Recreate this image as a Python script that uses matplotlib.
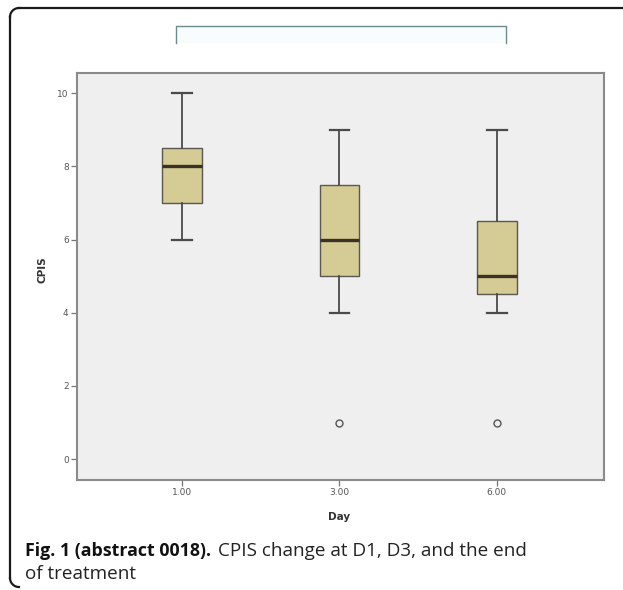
import matplotlib
matplotlib.use("Agg")
import matplotlib.pyplot as plt
from matplotlib.lines import Line2D
from matplotlib import font_manager
import numpy as np

# CPIS summary by day of treatment
days = ["1.00", "3.00", "6.00"]
whisker_low = [6.0, 4.0, 4.0]
q1 = [7.0, 5.0, 4.5]
median = [8.0, 6.0, 5.0]
q3 = [8.5, 7.5, 6.5]
whisker_high = [10.0, 9.0, 9.0]
outliers = [[], [1.0], [1.0]]
y_ticks = [0, 2, 4, 6, 8, 10]


def caption_font(bold, size):
    """Pick a regular-width Open Sans face, bold or regular."""
    wanted = 700 if bold else 400
    best = None
    for f in font_manager.fontManager.ttflist:
        if f.name != "Open Sans":
            continue
        if "ondensed" in f.fname or f.stretch not in ("normal", 500):
            continue
        if "talic" in f.fname or f.style != "normal":
            continue
        w = f.weight if isinstance(f.weight, int) else 400
        score = abs(w - wanted)
        if best is None or score < best[0]:
            best = (score, f.fname)
    if best is None:
        return font_manager.FontProperties(family="DejaVu Sans",
                                           weight="bold" if bold else "normal", size=size)
    return font_manager.FontProperties(fname=best[1], size=size)


W, H = 623, 590
fig = plt.figure(figsize=(W / 100, H / 100), dpi=100)
fig.patch.set_facecolor("white")

def fx(px):
    return px / W

def fy(py):
    return 1 - py / H

# Outer frame: left and top border with rounded corners
r = 9
fig.add_artist(Line2D([fx(10 + r), fx(W + 5)], [fy(8), fy(8)], color="#1a1a1a", lw=1.6))
fig.add_artist(Line2D([fx(10), fx(10)], [fy(8 + r), fy(H - 3 - r)], color="#1a1a1a", lw=1.6))
t = np.linspace(np.pi / 2, np.pi, 20)
fig.add_artist(Line2D(fx(10 + r + r * np.cos(t)), fy(8 + r - r * np.sin(t)), color="#1a1a1a", lw=1.6))
t2 = np.linspace(np.pi, 1.5 * np.pi, 20)
fig.add_artist(Line2D(fx(10 + r + r * np.cos(t2)), fy(H - 3 - r - r * np.sin(t2)), color="#1a1a1a", lw=1.6))

# Bracket above the plot
bx0, bx1, by0, by1 = 176, 506, 26, 43
fig.add_artist(plt.Rectangle((fx(bx0), fy(by1)), fx(bx1) - fx(bx0), fy(by0) - fy(by1),
                             facecolor="#f9fcfc", edgecolor="none", zorder=0))
fig.add_artist(Line2D([fx(bx0), fx(bx0), fx(bx1), fx(bx1)],
                      [fy(by1), fy(by0), fy(by0), fy(by1)],
                      color="#6f8c8c", lw=1.0))

ax = fig.add_axes([fx(77), fy(480), fx(604) - fx(77), fy(73) - fy(480)])
ax.set_facecolor("#efefef")

stats = []
for i in range(len(days)):
    stats.append(dict(med=median[i], q1=q1[i], q3=q3[i],
                      whislo=whisker_low[i], whishi=whisker_high[i],
                      fliers=outliers[i], label=days[i]))

ax.bxp(stats, positions=range(len(days)), widths=0.25, capwidths=0.125,
       patch_artist=True, showfliers=True,
       boxprops=dict(facecolor="#d4cc94", edgecolor="#5a5650", linewidth=1.0),
       medianprops=dict(color="#3b3128", linewidth=2.4),
       whiskerprops=dict(color="#4a4a4a", linewidth=1.3),
       capprops=dict(color="#4a4a4a", linewidth=1.6),
       flierprops=dict(marker="o", markersize=5, markerfacecolor="none",
                       markeredgecolor="#555555", markeredgewidth=1.0))

ax.set_xlim(-0.667, 2.68)
ax.set_ylim(-0.57, 10.55)
ax.set_yticks(y_ticks)
ax.set_yticklabels([str(v) for v in y_ticks])
ax.set_xticks(range(len(days)))
ax.set_xticklabels(days)
ax.tick_params(axis="both", direction="out", length=4, width=0.9, color="#777777",
               labelsize=6.5, labelcolor="#555555", pad=2)
for s in ax.spines.values():
    s.set_color("#8a8a8a")
    s.set_linewidth(1.5)

fig.text(fx(43), fy(270), "CPIS", rotation=90, ha="center", va="center",
         fontsize=7.5, fontweight="bold", color="#333333")
fig.text(fx(339), fy(517), "Day", ha="center", va="center",
         fontsize=7.5, fontweight="bold", color="#333333")

# Caption
t_bold = fig.text(fx(25), fy(556), "Fig. 1 (abstract 0018).", ha="left", va="baseline",
                  fontproperties=caption_font(True, 12.8), color="#111111")
fig.canvas.draw()
bb = t_bold.get_window_extent()
fig.text(bb.x1 / W + fx(7), fy(556), "CPIS change at D1, D3, and the end",
         ha="left", va="baseline", fontproperties=caption_font(False, 13.6), color="#222222")
fig.text(fx(25), fy(579), "of treatment", ha="left", va="baseline",
         fontproperties=caption_font(False, 13.6), color="#222222")

fig.savefig("out.png", dpi=100, facecolor="white")
